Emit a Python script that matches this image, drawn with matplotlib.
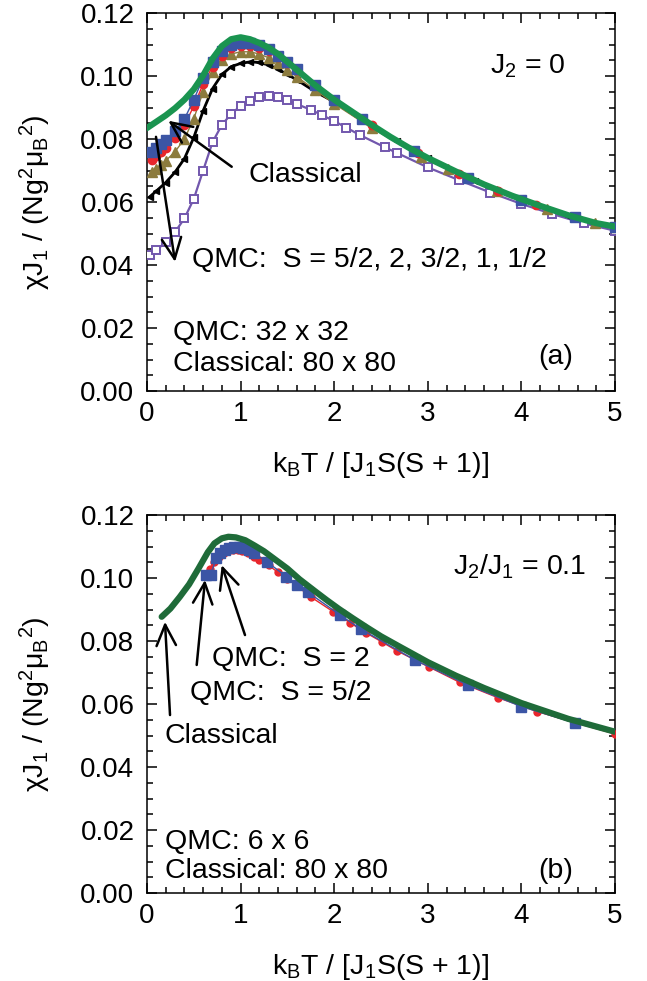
import matplotlib
matplotlib.use("Agg")
import matplotlib.pyplot as plt
from matplotlib.ticker import MultipleLocator

plt.rcParams['font.family'] = ['Liberation Sans', 'DejaVu Sans']
plt.rcParams['mathtext.fontset'] = 'custom'
plt.rcParams['mathtext.rm'] = 'Liberation Sans'
plt.rcParams['mathtext.it'] = 'Liberation Sans:italic'
plt.rcParams['mathtext.bf'] = 'Liberation Sans:bold'

# ---------------- panel (a): J2 = 0 ----------------
t_cl_a = [0.0, 0.1, 0.2, 0.3, 0.4, 0.5, 0.6, 0.7, 0.8, 0.9, 1.0, 1.1, 1.2, 1.3, 1.4,
          1.5, 1.6, 1.8, 2.0, 2.2, 2.4, 2.6, 2.8, 3.0, 3.3, 3.6, 3.9, 4.2, 4.5, 4.8, 5.0]
chi_cl_a = [0.0835, 0.0855, 0.0875, 0.0898, 0.0925, 0.0958, 0.1002, 0.1055, 0.1095, 0.1117,
            0.1123, 0.1117, 0.1105, 0.1090, 0.1070, 0.1045, 0.1020, 0.0970, 0.0925, 0.0885,
            0.0845, 0.0807, 0.0772, 0.0740, 0.0697, 0.0656, 0.0620, 0.0588, 0.0558, 0.0533, 0.0522]

t_s52_a = [0.05, 0.1, 0.15, 0.2, 0.3, 0.4, 0.5, 0.6, 0.7, 0.8, 0.9, 1.0, 1.1, 1.2, 1.3,
           1.4, 1.5, 1.6, 1.8, 2.0, 2.3, 2.85, 3.43, 4.0, 4.57, 5.0]
chi_s52_a = [0.0760, 0.0772, 0.0785, 0.0797, 0.0825, 0.0864, 0.0925, 0.0993, 0.1045, 0.1078,
             0.1098, 0.1105, 0.1104, 0.1098, 0.1085, 0.1065, 0.1045, 0.1022, 0.0972, 0.0925,
             0.0865, 0.0762, 0.0677, 0.0607, 0.0551, 0.0521]

t_s2_a = [0.05, 0.1, 0.15, 0.2, 0.3, 0.4, 0.5, 0.6, 0.7, 0.8, 0.9, 1.0, 1.1, 1.2, 1.3,
          1.4, 1.5, 1.6, 1.8, 2.0, 2.4, 2.9, 3.33, 3.75, 4.16, 4.58, 5.0]
chi_s2_a = [0.0735, 0.0745, 0.0758, 0.0773, 0.0803, 0.0843, 0.0905, 0.0975, 0.1030, 0.1065,
            0.1088, 0.1095, 0.1095, 0.1090, 0.1078, 0.1060, 0.1040, 0.1018, 0.0970, 0.0924,
            0.0843, 0.0755, 0.0690, 0.0636, 0.0591, 0.0552, 0.0521]

t_s32_a = [0.05, 0.1, 0.15, 0.2, 0.3, 0.4, 0.5, 0.6, 0.7, 0.8, 0.9, 1.0, 1.1, 1.2, 1.3,
           1.4, 1.5, 1.6, 1.8, 2.0, 2.4, 2.93, 3.22, 3.74, 4.27, 4.79, 5.0]
chi_s32_a = [0.0695, 0.0705, 0.0718, 0.0731, 0.0760, 0.0800, 0.0865, 0.0950, 0.1013, 0.1050,
             0.1070, 0.1077, 0.1077, 0.1070, 0.1058, 0.1040, 0.1020, 0.0998, 0.0955, 0.0912,
             0.0835, 0.0744, 0.0705, 0.0634, 0.0578, 0.0532, 0.0520]

t_s1_a = [0.03, 0.1, 0.2, 0.3, 0.4, 0.5, 0.6, 0.7, 0.8, 0.9, 1.0, 1.1, 1.2, 1.3, 1.4,
          1.5, 1.6, 1.8, 2.0, 2.3, 2.67, 3.0, 3.5, 4.0, 4.5, 5.0]
chi_s1_a = [0.0617, 0.0635, 0.0662, 0.0695, 0.0738, 0.0805, 0.0890, 0.0960, 0.1005, 0.1030,
            0.1040, 0.1045, 0.1043, 0.1035, 0.1022, 0.1005, 0.0988, 0.0950, 0.0918, 0.0858,
            0.0795, 0.0740, 0.0668, 0.0605, 0.0555, 0.0519]

t_s12_a = [0.03, 0.1, 0.2, 0.3, 0.4, 0.5, 0.6, 0.7, 0.8, 0.9, 1.0, 1.1, 1.2, 1.3, 1.4,
           1.5, 1.6, 1.75, 1.87, 2.0, 2.13, 2.28, 2.54, 2.67, 3.0, 3.33, 3.67, 4.0, 4.33,
           4.67, 5.0]
chi_s12_a = [0.0432, 0.0448, 0.0472, 0.0505, 0.0548, 0.0610, 0.0700, 0.0790, 0.0845, 0.0880,
             0.0905, 0.0922, 0.0932, 0.0937, 0.0934, 0.0924, 0.0911, 0.0893, 0.0876, 0.0857,
             0.0836, 0.0812, 0.0774, 0.0756, 0.0710, 0.0670, 0.0630, 0.0594, 0.0562, 0.0532,
             0.0509]

# ---------------- panel (b): J2/J1 = 0.1 ----------------
t_cl_b = [0.157, 0.25, 0.35, 0.45, 0.55, 0.65, 0.72, 0.8, 0.87, 0.95, 1.05, 1.15, 1.25,
          1.35, 1.5, 1.63, 1.8, 1.92, 2.05, 2.2, 2.35, 2.5, 2.7, 3.0, 3.3, 3.6, 4.0, 4.5, 5.0]
chi_cl_b = [0.0877, 0.0903, 0.0940, 0.0980, 0.1030, 0.1082, 0.1110, 0.1126, 0.1131, 0.1129,
            0.1120, 0.1103, 0.1085, 0.1063, 0.1030, 0.0996, 0.0957, 0.0930, 0.0902, 0.0872,
            0.0843, 0.0815, 0.0782, 0.0733, 0.0690, 0.0651, 0.0603, 0.0553, 0.0512]

t_s52_b = [0.63, 0.68, 0.74, 0.78, 0.83, 0.88, 0.93, 0.98, 1.03, 1.09, 1.14, 1.28, 1.49,
           1.6, 1.72, 2.06, 2.29, 2.86, 3.43, 4.0, 4.57]
chi_s52_b = [0.1010, 0.1010, 0.1063, 0.1080, 0.1090, 0.1096, 0.1099, 0.1098, 0.1094, 0.1088,
             0.1078, 0.1052, 0.1004, 0.0978, 0.0955, 0.0883, 0.0837, 0.0740, 0.0660, 0.0592,
             0.0540]

t_s2_b = [0.67, 0.72, 0.77, 0.82, 0.87, 0.92, 0.97, 1.02, 1.08, 1.14, 1.2, 1.3, 1.4, 1.5,
          1.6, 1.75, 1.99, 2.17, 2.34, 2.51, 2.67, 3.01, 3.34, 3.75, 4.17, 4.58, 5.0]
chi_s2_b = [0.1030, 0.1050, 0.1068, 0.1078, 0.1085, 0.1088, 0.1088, 0.1085, 0.1078, 0.1068,
            0.1057, 0.1040, 0.1018, 0.0998, 0.0975, 0.0940, 0.0893, 0.0858, 0.0826, 0.0797,
            0.0769, 0.0718, 0.0669, 0.0620, 0.0576, 0.0540, 0.0505]

x_ticks = [0, 1, 2, 3, 4, 5]
y_ticks = [0.00, 0.02, 0.04, 0.06, 0.08, 0.10, 0.12]
y_tick_labels = ['0.00', '0.02', '0.04', '0.06', '0.08', '0.10', '0.12']

GREEN_A = '#1a9450'
GREEN_B = '#1f6b39'
BLUE = '#3b55a5'
RED = '#e8262c'
OLIVE = '#8c7b3d'
PURPLE = '#7257ad'

FS = 20.5
XLABEL = 'k$_\\mathrm{B}$T / [J$_1$S(S + 1)]'
YLABEL = 'χJ$_1$ / (Ng$^2$μ$_\\mathrm{B}$$^2$)'

fig = plt.figure(figsize=(6.47, 9.81), dpi=100)
ax_a = fig.add_axes([0.2272, 0.6014, 0.7233, 0.3853])
ax_b = fig.add_axes([0.2272, 0.0897, 0.7233, 0.3853])


def style_axes(ax):
    ax.set_xlim(0, 5)
    ax.set_ylim(0, 0.12)
    ax.set_xticks(x_ticks)
    ax.set_yticks(y_ticks)
    ax.set_yticklabels(y_tick_labels)
    ax.xaxis.set_minor_locator(MultipleLocator(0.2))
    ax.yaxis.set_minor_locator(MultipleLocator(0.005))
    ax.tick_params(which='both', direction='in', top=True, right=True, width=1.1,
                   labelsize=20)
    ax.tick_params(which='major', length=7)
    ax.tick_params(which='minor', length=4)
    ax.tick_params(axis='y', pad=9)
    ax.tick_params(axis='x', pad=7)
    for sp in ax.spines.values():
        sp.set_linewidth(1.1)
    ax.set_xlabel(XLABEL, fontsize=FS)
    ax.set_ylabel(YLABEL, fontsize=FS)
    ax.yaxis.set_label_coords(-0.20, 0.5)
    ax.xaxis.set_label_coords(0.5, -0.155)


ARROW = dict(arrowstyle='->,head_length=0.6,head_width=0.28', lw=1.8, color='black',
             mutation_scale=25, shrinkA=0, shrinkB=0)

# panel (a)
ax = ax_a
style_axes(ax)
ax.plot(t_s12_a, chi_s12_a, color=PURPLE, lw=1.6, marker='s', ms=5.5, mfc='white',
        mec=PURPLE, mew=1.4, zorder=3)
ax.plot(t_s1_a, chi_s1_a, color='black', lw=2.0, marker='<', ms=4.5, mec='black', zorder=4)
ax.plot(t_s32_a, chi_s32_a, color=OLIVE, lw=1.0, marker='^', ms=6.5, mec=OLIVE, zorder=5)
ax.plot(t_s2_a, chi_s2_a, color=RED, lw=1.0, marker='o', ms=6, mec=RED, zorder=6)
ax.plot(t_s52_a, chi_s52_a, color=BLUE, lw=1.0, marker='s', ms=6.5, mec=BLUE, zorder=7)
ax.plot(t_cl_a, chi_cl_a, color=GREEN_A, lw=4.5, solid_capstyle='round', zorder=8)

ax.annotate('', xy=(0.228, 0.0858), xytext=(0.905, 0.0712), arrowprops=ARROW, zorder=10)
ax.annotate('', xy=(0.30, 0.0410), xytext=(0.096, 0.0807), arrowprops=ARROW, zorder=10)
ax.text(1.08, 0.0665, 'Classical', fontsize=FS, va='baseline')
ax.text(0.478, 0.0395, 'QMC:  S = 5/2, 2, 3/2, 1, 1/2', fontsize=FS, va='baseline')
ax.text(3.66, 0.1009, 'J$_2$ = 0', fontsize=FS, va='baseline')
ax.text(0.278, 0.0162, 'QMC: 32 x 32', fontsize=FS, va='baseline')
ax.text(0.278, 0.00635, 'Classical: 80 x 80', fontsize=FS, va='baseline')
ax.text(4.18, 0.0086, '(a)', fontsize=FS, va='baseline')

# panel (b)
ax = ax_b
style_axes(ax)
ax.plot(t_s2_b, chi_s2_b, color=RED, lw=1.0, marker='o', ms=5, mec=RED, zorder=5)
ax.plot(t_s52_b, chi_s52_b, color=BLUE, lw=1.0, marker='s', ms=7, mec=BLUE, zorder=6)
ax.plot(t_cl_b, chi_cl_b, color=GREEN_B, lw=4.5, solid_capstyle='round', zorder=7)

ax.annotate('', xy=(0.192, 0.0861), xytext=(0.246, 0.0565), arrowprops=ARROW, zorder=10)
ax.annotate('', xy=(0.62, 0.0994), xytext=(0.531, 0.0724), arrowprops=ARROW, zorder=10)
ax.annotate('', xy=(0.798, 0.1041), xytext=(1.047, 0.0819), arrowprops=ARROW, zorder=10)
ax.text(3.27, 0.101, 'J$_2$/J$_1$ = 0.1', fontsize=FS, va='baseline')
ax.text(0.694, 0.0721, 'QMC:  S = 2', fontsize=FS, va='baseline')
ax.text(0.46, 0.0613, 'QMC:  S = 5/2', fontsize=FS, va='baseline')
ax.text(0.19, 0.0476, 'Classical', fontsize=FS, va='baseline')
ax.text(0.19, 0.0140, 'QMC: 6 x 6', fontsize=FS, va='baseline')
ax.text(0.19, 0.0048, 'Classical: 80 x 80', fontsize=FS, va='baseline')
ax.text(4.18, 0.0048, '(b)', fontsize=FS, va='baseline')

fig.savefig('out.png', dpi=100)
